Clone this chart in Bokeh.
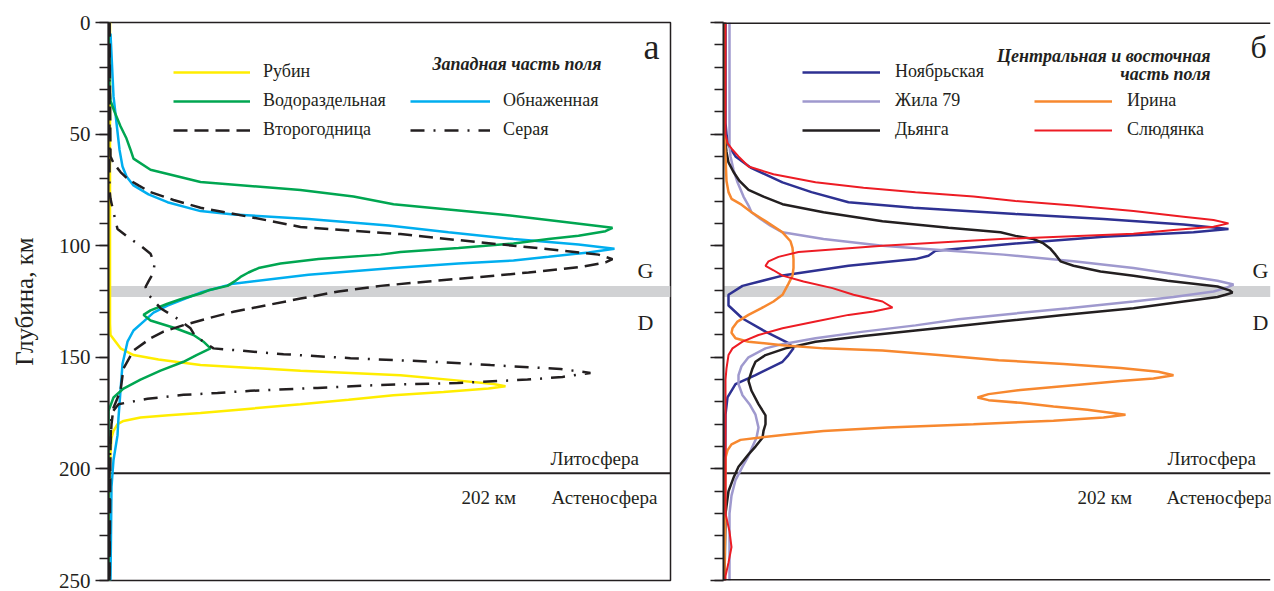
from bokeh.plotting import figure
from bokeh.models import (Range1d, Span, BoxAnnotation, Label, Legend, LegendItem,
                          SingleIntervalTicker)
from bokeh.layouts import row
from bokeh.embed import file_html
from bokeh.resources import INLINE

# ---------------- data (depth, km ; relative frequency, arbitrary units) -------------
# Left panel: western part of the field
rubin_d = [0, 100, 135, 140, 146, 149, 151, 153.5, 156, 158, 160, 162, 163, 164, 165.5, 167, 169, 171, 173, 175, 176, 177, 178.5, 180, 183, 186, 200, 250]
rubin_v = [1.5, 1.5, 1.5, 2, 12, 25, 50, 92, 192, 292, 340, 385, 397, 380, 335, 285, 240, 192, 142, 92, 60, 32, 15, 9, 5, 3, 1, 1]

vodo_d = [0, 30, 35, 40, 46.5, 52, 57, 61, 66, 71.5, 75, 78, 81.4, 86, 89, 92, 93.5, 95.5, 97, 99, 101, 102.8, 104, 106, 108, 110, 112, 114, 116, 118, 120, 121.4, 124, 126, 129, 131, 133.5, 137, 140, 143, 146, 149, 152, 156, 160, 164, 168, 174, 250]
vodo_v = [0, 1, 2, 6, 12, 18, 22, 25, 42, 92, 192, 245, 285, 392, 450, 504, 497, 470, 440, 405, 350, 292, 272, 210, 172, 150, 140, 132, 126, 119, 100, 92, 72, 59, 42, 35, 42, 67, 85, 95, 102, 88, 75, 52, 32, 15, 5, 0, 0]

obn_d = [5, 33, 49, 57, 64.5, 69, 73, 77, 80.5, 84.5, 86, 88, 91, 94, 97, 99.5, 101.4, 103, 105, 106.6, 108, 110, 113, 117, 121, 126.8, 130, 134, 138, 143, 153, 165, 177, 185, 196, 208, 250]
obn_v = [2, 5, 9, 11, 14, 18, 25, 40, 59, 92, 125, 200, 280, 340, 405, 470, 506, 480, 440, 405, 350, 285, 200, 125, 92, 59, 45, 35, 25, 19, 14, 12, 10, 9, 5, 3, 2]

vtor_d = [0, 60, 63, 67, 70, 73, 76, 79.5, 83, 87, 91.6, 94.8, 97.5, 100, 102, 104, 106, 107.5, 109.5, 112, 114, 116, 118, 120.5, 123.7, 126.5, 129.6, 132.5, 135.6, 138.5, 141.5, 147, 155, 165, 172.6, 180, 189, 250]
vtor_v = [1, 2, 5, 12, 19, 30, 42, 65, 92, 140, 192, 292, 350, 405, 450, 490, 504, 497, 472, 420, 372, 320, 272, 230, 192, 160, 125, 100, 75, 55, 42, 25, 15, 12, 5, 3, 2, 1]

sera_d = [0, 75, 79, 85, 92.5, 96, 100, 103.6, 108, 112, 116, 118.5, 122, 128, 133, 137, 140, 143, 146, 147, 148.6, 150.4, 152, 153.5, 155.2, 157, 158.8, 160, 161.5, 162.4, 163.7, 165, 166, 166.8, 168.6, 171, 175, 200, 250]
sera_v = [1, 1, 2, 5, 9, 19, 32, 42, 46, 45, 40, 37, 40, 52, 70, 82, 86, 95, 105, 132, 175, 242, 325, 382, 452, 482, 454, 419, 349, 272, 209, 142, 109, 75, 39, 10, 3, 1, 1]

# Right panel: central and eastern part of the field
noyab_d = [0, 45, 50, 55, 60, 65, 71.6, 76, 80.5, 83, 85.8, 88, 90.5, 92.5, 94, 96, 99, 102.3, 104.5, 106, 109, 113.4, 118, 122, 126.8, 132.6, 138.5, 143.7, 146, 149, 152, 158, 162, 168, 175.7, 250]
noyab_v = [2, 2, 3, 5, 12, 27, 59, 88, 125, 190, 292, 380, 460, 505, 470, 380, 292, 212, 205, 192, 125, 59, 19, 5, 5, 19, 42, 65, 70, 65, 59, 32, 12, 4, 2, 1]

zhila_d = [0, 55, 60, 66, 71.6, 78, 82, 85, 88, 91, 94, 97, 100, 102, 104, 107, 110, 113, 115.7, 117.4, 119, 120.5, 123, 125, 128, 131, 133, 135.7, 138.5, 141.5, 144, 146, 150, 154, 158, 162, 167, 171, 175.7, 181.5, 186, 190, 195, 199, 205, 212, 220, 250]
zhila_v = [6, 6, 7, 10, 14, 20, 25, 28, 37, 47, 59, 100, 159, 220, 280, 350, 410, 455, 494, 510, 502, 490, 450, 410, 345, 277, 235, 192, 140, 92, 60, 42, 25, 18, 15, 15, 19, 26, 32, 35, 33, 29, 24, 19, 12, 8, 6, 6]

dyanga_d = [0, 50, 54, 58, 62.7, 67, 71, 75, 78, 81.4, 85, 89, 92, 94, 95.6, 97, 99, 101.4, 104, 107, 109, 111.6, 113.5, 115.7, 118.3, 120, 121, 122, 123, 125, 128, 131, 134, 136, 138, 140.5, 143, 146, 149, 152, 155, 160.6, 165, 171, 176, 180, 183, 186, 190, 193.5, 199, 204, 210, 220, 250]
dyanga_v = [1, 1, 2, 3, 5, 10, 16, 25, 40, 59, 100, 159, 225, 277, 292, 310, 320, 327, 332, 337, 350, 377, 410, 444, 494, 506, 509, 502, 494, 460, 410, 340, 277, 235, 192, 140, 92, 62, 42, 32, 29, 25, 28, 35, 42, 42, 40, 39, 32, 25, 15, 10, 5, 2, 1]

irina_d = [0, 50, 60, 71, 76, 79, 81.6, 85, 89, 94, 98, 101, 106, 110, 113.4, 117, 122, 125, 128, 131, 134, 137, 139, 141.5, 143, 144.6, 146, 147, 149, 151.3, 153, 154.8, 156.5, 158, 159.5, 160.6, 162.5, 164.6, 166.5, 168, 169.2, 170.4, 172, 173.5, 175.7, 177, 178.4, 180, 181.5, 183, 184.6, 186, 187, 189, 191.7, 195, 250]
irina_v = [1, 1, 2, 3, 5, 8, 18, 28, 42, 59, 67, 69, 70, 70, 69, 65, 59, 50, 38, 25, 14, 9, 8, 12, 25, 59, 100, 159, 215, 275, 340, 397, 435, 450, 430, 397, 350, 297, 265, 254, 265, 297, 330, 364, 402, 380, 330, 250, 164, 100, 64, 35, 17, 8, 4, 2, 1]

slud_d = [0, 50, 54, 57, 60, 64.5, 68, 71.6, 74, 76, 78, 80, 82, 84.5, 87, 88.5, 90, 91.5, 93, 94.7, 97, 100, 102.8, 105, 107, 109, 111, 113.4, 116, 119, 122, 125, 127.7, 129.5, 131, 134, 137, 140, 143, 146, 149, 155, 160, 220, 228, 235, 242, 248, 250]
slud_v = [2, 2, 4, 9, 15, 25, 50, 92, 140, 192, 250, 292, 350, 410, 460, 490, 505, 490, 450, 410, 277, 159, 75, 55, 45, 42, 50, 59, 80, 109, 130, 159, 169, 150, 125, 92, 59, 35, 19, 9, 5, 3, 2, 2, 6, 8, 5, 2, 2]

depth_ticks = [0, 50, 100, 150, 200, 250]
gd_band = (118, 123)       # graphite-diamond transition
lab_depth = 202            # lithosphere-asthenosphere boundary

FONT = "Liberation Serif"
INK = "#231f20"
H = 591


def base_fig(width, xmax, border_left, border_right, labels=True):
    p = figure(width=width, height=H, output_backend="svg", toolbar_location=None,
               x_axis_type=None, x_range=Range1d(0, xmax), y_range=Range1d(250, 0),
               min_border_left=border_left, min_border_right=border_right,
               min_border_top=22, min_border_bottom=11)
    p.ygrid.visible = False
    p.background_fill_color = "white"
    ax = p.yaxis[0]
    ax.ticker = SingleIntervalTicker(interval=50, num_minor_ticks=5)
    ax.axis_line_width = 2
    ax.axis_line_color = INK
    ax.major_tick_line_color = INK
    ax.minor_tick_line_color = INK
    ax.major_tick_line_width = 1.5
    ax.minor_tick_line_width = 1.5
    ax.major_tick_out = 13
    ax.major_tick_in = 0
    ax.minor_tick_out = 9
    ax.minor_tick_in = 0
    ax.major_label_text_font = FONT
    ax.major_label_text_font_size = "21px"
    ax.major_label_text_color = INK
    ax.major_label_standoff = 5
    if not labels:
        ax.major_label_overrides = {t: "" for t in depth_ticks}
    band = BoxAnnotation(bottom=gd_band[0], top=gd_band[1], fill_color="#d1d2d4",
                         fill_alpha=1, line_color=None, level="underlay")
    p.add_layout(band)
    p.add_layout(Span(location=lab_depth, dimension="width", line_color=INK,
                      line_width=2, level="underlay"))
    return p


def txt(p, x, y, s, size="19px", align="left", style="normal"):
    p.add_layout(Label(x=x, y=y, text=s, text_font=FONT, text_font_size=size,
                       text_color=INK, text_align=align, text_baseline="middle",
                       text_font_style=style))


def legend(p, items, loc, glyph_w, standoff):
    lg = Legend(items=items, location=loc, orientation="vertical",
                label_text_font=FONT, label_text_font_size="18px", label_text_color=INK,
                glyph_width=glyph_w, glyph_height=20, label_height=20,
                label_standoff=standoff, spacing=8, padding=0, margin=0,
                background_fill_alpha=0, border_line_alpha=0)
    p.add_layout(lg)


# ---------------- left panel ----------------
p1 = base_fig(680, 562, 108, 10)
p1.outline_line_color = INK
p1.outline_line_width = 1.5
ax = p1.yaxis[0]
ax.axis_label = "Глубина, км"
ax.axis_label_text_font = FONT
ax.axis_label_text_font_size = "25px"
ax.axis_label_text_font_style = "normal"
ax.axis_label_text_color = INK
ax.axis_label_standoff = 18

lw = 2.5
r_rub = p1.line(rubin_v, rubin_d, line_color="#ffed00", line_width=lw)
r_obn = p1.line(obn_v, obn_d, line_color="#00aeef", line_width=lw)
r_vod = p1.line(vodo_v, vodo_d, line_color="#00a651", line_width=lw)
r_vto = p1.line(vtor_v, vtor_d, line_color=INK, line_width=lw, line_dash="14 7")
r_ser = p1.line(sera_v, sera_d, line_color=INK, line_width=lw, line_dash="14 9 2 9")

legend(p1, [LegendItem(label="Рубин", renderers=[r_rub]),
            LegendItem(label="Водораздельная", renderers=[r_vod]),
            LegendItem(label="Второгодница", renderers=[r_vto])], (65, 440), 77, 13)
legend(p1, [LegendItem(label="Обнаженная", renderers=[r_obn]),
            LegendItem(label="Серая", renderers=[r_ser])], (302, 440), 80, 13)

txt(p1, 493, 18.4, "Западная часть поля", size="18px", align="right", style="bold italic")
txt(p1, 543, 10.8, "а", size="36px", align="center")
txt(p1, 537, 111, "G", size="22px", align="center")
txt(p1, 537, 134.4, "D", size="22px", align="center")
txt(p1, 442, 195.3, "Литосфера")
txt(p1, 353, 213, "202 км")
txt(p1, 443, 213, "Астеносфера")

# ---------------- right panel ----------------
p2 = base_fig(592, 547, 43, 2, labels=False)
p2.outline_line_color = None
p2.add_layout(Span(location=0, dimension="width", line_color=INK, line_width=3))
p2.add_layout(Span(location=250, dimension="width", line_color=INK, line_width=3))

r_noy = p2.line(noyab_v, noyab_d, line_color="#2e3192", line_width=lw)
r_zhi = p2.line(zhila_v, zhila_d, line_color="#9f99ce", line_width=lw)
r_dya = p2.line(dyanga_v, dyanga_d, line_color=INK, line_width=lw)
r_iri = p2.line(irina_v, irina_d, line_color="#f7882f", line_width=lw)
r_slu = p2.line(slud_v, slud_d, line_color="#ed1c24", line_width=2)

legend(p2, [LegendItem(label="Ноябрьская", renderers=[r_noy]),
            LegendItem(label="Жила 79", renderers=[r_zhi]),
            LegendItem(label="Дьянга", renderers=[r_dya])], (79, 440), 78, 15)
legend(p2, [LegendItem(label="Ирина", renderers=[r_iri]),
            LegendItem(label="Слюдянка", renderers=[r_slu])], (311, 440), 78, 15)

txt(p2, 487, 14.8, "Центральная и восточная", size="18px", align="right", style="bold italic")
txt(p2, 487, 22.9, "часть поля", size="18px", align="right", style="bold italic")
txt(p2, 527, 10.8, "б", size="32px", align="left")
txt(p2, 537, 111, "G", size="22px", align="center")
txt(p2, 537, 134.4, "D", size="22px", align="center")
txt(p2, 444, 195.3, "Литосфера")
txt(p2, 354, 213, "202 км")
txt(p2, 443, 213, "Астеносфера")

layout = row(p1, p2)
open("out.html", "w").write(file_html(layout, INLINE))
